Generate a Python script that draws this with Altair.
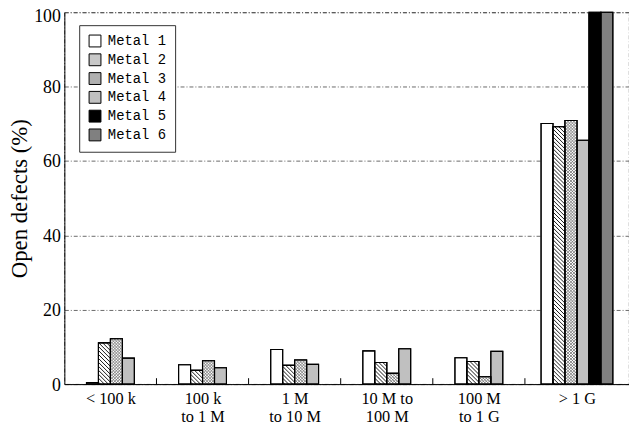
import json
import altair as alt
import pandas as pd

# ---------------- data ----------------
groups = ["< 100 k", "100 k\nto 1 M", "1 M\nto 10 M", "10 M to\n100 M", "100 M\nto 1 G", "> 1 G"]
metals = ["Metal 1", "Metal 2", "Metal 3", "Metal 4", "Metal 5", "Metal 6"]
metal1 = [0.4, 5.2, 9.3, 8.95, 7.1, 70.1]
metal2 = [11.1, 3.7, 5.05, 5.8, 6.1, 69.2]
metal3 = [12.2, 6.3, 6.5, 2.9, 2.0, 70.9]
metal4 = [7.0, 4.4, 5.3, 9.5, 8.8, 65.6]
metal5 = [None, None, None, None, None, 100.0]
metal6 = [None, None, None, None, None, 100.0]
y_ticks = [0, 20, 40, 60, 80, 100]

series = [metal1, metal2, metal3, metal4, metal5, metal6]

# ---------------- layout / style ----------------
W, H = 571, 376
XMIN, XMAX = -0.5, 5.63
PX_X = W / (XMAX - XMIN)
PX_Y = H / 100.0
BAR_PX = 12.1
SW = BAR_PX / PX_X
NSLOT = len(metals)

legend_fill = ["white", "#c8c8c8", "#b0b0b0", "#c0c0c0", "black", "#808080"]
hatched = ["Metal 2", "Metal 3"]

last = len(groups) - 1
centers = [float(i) for i in range(last)] + [((last - 0.5) + XMAX) / 2]

rows = []
for gi, g in enumerate(groups):
    present = [(mi, s[gi]) for mi, s in enumerate(series) if s[gi] is not None]
    n = len(present)
    for rank, (mi, v) in enumerate(present):
        slot = rank + (NSLOT - n) / 2
        x0 = centers[gi] + (slot - NSLOT / 2) * SW
        rows.append({"group": g, "metal": metals[mi], "value": v, "x0": x0, "x1": x0 + SW})
bars = pd.DataFrame(rows)


def hatch(df, spacing_px, direction):
    segs = []
    bw = SW * PX_X
    d = spacing_px / PX_Y
    for _, r in df.iterrows():
        v = r["value"]
        xl = r["x0"]
        if direction == "back":  # '\'  y = c - xr/PX_Y
            c = d / 2
            while c < v + bw / PX_Y:
                a = max(0.0, (c - v) * PX_Y)
                b = min(bw, c * PX_Y)
                if b - a > 0.3:
                    segs.append({"x": xl + a / PX_X, "y": c - a / PX_Y,
                                 "x2": xl + b / PX_X, "y2": c - b / PX_Y})
                c += d
        else:  # '/'  y = c + xr/PX_Y
            c = -bw / PX_Y + d / 2
            while c < v:
                a = max(0.0, -c * PX_Y)
                b = min(bw, (v - c) * PX_Y)
                if b - a > 0.3:
                    segs.append({"x": xl + a / PX_X, "y": c + a / PX_Y,
                                 "x2": xl + b / PX_X, "y2": c + b / PX_Y})
                c += d
    return pd.DataFrame(segs)


h2 = hatch(bars[bars.metal == "Metal 2"], 4.0, "back")
h3 = pd.concat([hatch(bars[bars.metal == "Metal 3"], 3.0, "back"),
                hatch(bars[bars.metal == "Metal 3"], 3.0, "fwd")])

bounds = pd.DataFrame({"b": [i + 0.5 for i in range(last)], "y0": 0.0, "y1": 6.0 / PX_Y})

# label expression (multi-line labels)
expr = json.dumps(groups[-1].split("\n"))
for i in range(last - 1, -1, -1):
    expr = f"datum.value < {i + 0.5} ? {json.dumps(groups[i].split(chr(10)))} : ({expr})"

xscale = alt.Scale(domain=[XMIN, XMAX], nice=False, zero=False)
yscale = alt.Scale(domain=[0, 100], nice=False)

xaxis = alt.Axis(values=centers, labelExpr=expr, ticks=False, tickSize=0, grid=False,
                 labelFont="Liberation Serif", labelFontSize=16.5, labelColor="black",
                 labelPadding=7, labelLineHeight=17.5, labelFlush=False, labelOverlap=False,
                 domainColor="black", domainWidth=1, title=None)
yaxis = alt.Axis(values=y_ticks, ticks=False, tickSize=0, grid=True, gridColor="#444",
                 gridDash=[4, 2, 1, 2], gridWidth=0.8, labelFont="Liberation Serif",
                 labelFontSize=18, labelColor="black", labelPadding=4, domainColor="black",
                 labelOffset={"condition": {"test": "datum.value == 100", "value": 4}, "value": 1},
                 labelFlush=False,
                 domainWidth=1, title="Open defects (%)", titleFont="Liberation Serif",
                 titleFontSize=23, titleFontWeight="normal", titleColor="black", titlePadding=2)

bar_layer = alt.Chart(bars).mark_bar(stroke="black", strokeWidth=1.1).encode(
    x=alt.X("x0:Q", scale=xscale, axis=xaxis),
    x2="x1:Q",
    y=alt.Y("value:Q", scale=yscale, axis=yaxis),
    y2=alt.datum(0),
    fill=alt.Fill("metal:N", scale=alt.Scale(domain=metals, range=legend_fill),
                  legend=alt.Legend(title=None, orient="none", legendX=15, legendY=13,
                                    symbolType="square", symbolSize=144,
                                    symbolStrokeColor="black", symbolStrokeWidth=1,
                                    symbolOpacity=1, labelFont="Liberation Mono",
                                    labelFontSize=14, labelColor="black", labelOffset=6,
                                    rowPadding=3, padding=9, strokeColor="#333",
                                    fillColor="white", cornerRadius=0)),
)

cover = alt.Chart(bars).transform_filter(
    alt.FieldOneOfPredicate(field="metal", oneOf=hatched)
).mark_bar(fill="white", stroke="black", strokeWidth=1.1).encode(
    x=alt.X("x0:Q", scale=xscale), x2="x1:Q",
    y=alt.Y("value:Q", scale=yscale), y2=alt.datum(0))

h2_layer = alt.Chart(h2).mark_rule(color="black", strokeWidth=0.9).encode(
    x=alt.X("x:Q", scale=xscale), x2="x2:Q", y=alt.Y("y:Q", scale=yscale), y2="y2:Q")
h3_layer = alt.Chart(h3).mark_rule(color="#666", strokeWidth=0.75).encode(
    x=alt.X("x:Q", scale=xscale), x2="x2:Q", y=alt.Y("y:Q", scale=yscale), y2="y2:Q")

outline = alt.Chart(bars).mark_bar(fillOpacity=0, stroke="black", strokeWidth=1.1).encode(
    x=alt.X("x0:Q", scale=xscale), x2="x1:Q",
    y=alt.Y("value:Q", scale=yscale), y2=alt.datum(0))

tick_layer = alt.Chart(bounds).mark_rule(color="black", strokeWidth=1).encode(
    x=alt.X("b:Q", scale=xscale), y=alt.Y("y0:Q", scale=yscale), y2="y1:Q")

chart = alt.layer(bar_layer, cover, h2_layer, h3_layer, outline, tick_layer).properties(
    width=W, height=H,
    autosize=alt.AutoSizeParams(type="none"),
    padding={"left": 57, "top": 2, "right": 0, "bottom": 41},
    background="white",
).configure_view(stroke="#444", strokeDash=[4, 2, 1, 2], strokeWidth=0.8)

chart.save("out.html", embed_options={"renderer": "svg", "actions": False})
